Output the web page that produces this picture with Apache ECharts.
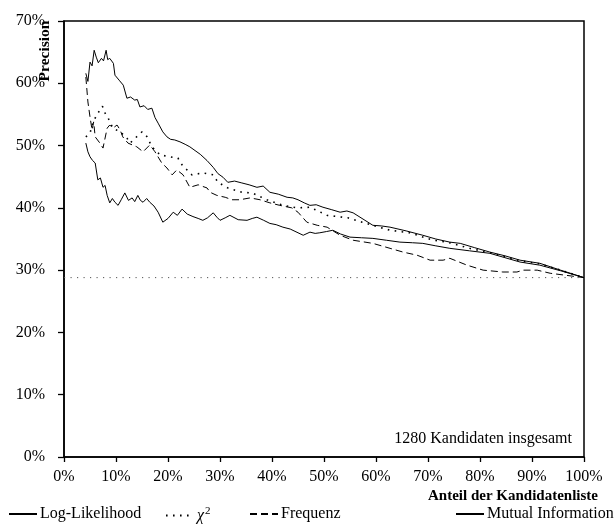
<!DOCTYPE html>
<html><head><meta charset="utf-8">
<script src="https://cdn.jsdelivr.net/npm/echarts@6/dist/echarts.min.js"></script>
<style>html,body{margin:0;padding:0;background:#fff}#c{width:615px;height:525px}</style>
</head><body><div id="c"></div>
<script>
const xTicks = [0,10,20,30,40,50,60,70,80,90,100];
const yTicks = [0,10,20,30,40,50,60,70];
const seriesNames = ['Log-Likelihood','χ²','Frequenz','Mutual Information'];
const baselineValue = 28.8;
const logLikelihood = [[4.2,61.6],[4.6,60.3],[5.0,63.4],[5.4,62.8],[5.8,65.3],[6.2,64.2],[6.6,63.3],[7.2,64.0],[7.6,63.6],[8.1,65.3],[8.4,63.8],[8.8,64.0],[9.5,63.2],[9.8,61.3],[10.6,60.5],[11.4,59.7],[12.1,57.6],[12.8,57.8],[13.6,57.3],[14.1,57.4],[14.6,56.2],[15.4,56.4],[16.1,55.8],[16.9,56.0],[17.5,54.5],[18.1,53.6],[19.0,52.2],[19.8,51.4],[20.5,51.0],[21.3,50.9],[22.3,50.6],[23.3,50.2],[24.2,49.8],[25.2,49.2],[26.2,48.6],[27.5,47.6],[28.7,46.5],[29.6,45.5],[30.6,44.9],[31.5,44.1],[32.8,44.3],[34.2,44.0],[35.6,43.7],[37.1,43.3],[38.3,43.5],[39.6,42.5],[41.2,42.2],[42.9,41.7],[44.0,41.6],[45.0,41.3],[46.2,40.8],[47.3,40.4],[48.5,40.5],[49.8,40.1],[51.5,39.7],[53.1,39.3],[54.4,39.5],[55.6,39.2],[57.5,38.2],[59.4,37.2],[61.0,37.1],[62.7,36.9],[65.8,36.3],[69.0,35.6],[71.5,35.0],[74.2,34.5],[76.2,34.3],[79.0,33.6],[81.9,32.9],[84.8,32.3],[87.7,31.6],[91.5,31.1],[95.5,30.0],[100,28.8]];
const chiSquare = [[4.2,51.4],[5.0,52.0],[5.6,53.8],[6.3,54.9],[6.9,55.7],[7.4,56.3],[7.9,55.2],[8.5,54.4],[9.4,52.8],[10.8,52.2],[12.1,51.2],[12.7,50.4],[13.7,51.2],[15.0,52.2],[16.0,51.4],[16.9,49.8],[18.5,48.5],[20.4,48.2],[21.9,48.0],[22.7,46.9],[24.6,45.3],[26.7,45.6],[28.7,45.3],[29.6,44.1],[31.5,43.2],[34.2,42.5],[36.2,42.4],[39.0,41.3],[42.1,40.4],[44.8,40.0],[47.3,40.1],[50.6,38.8],[54.6,38.4],[57.3,37.7],[62.7,36.4],[66.5,36.0],[71.0,34.8],[73.7,34.5],[78.0,33.5],[81.9,32.8],[87.7,31.5],[91.5,31.0],[95.5,30.0],[100,28.8]];
const frequenz = [[4.2,61.0],[4.6,57.0],[5.0,54.6],[5.4,52.5],[5.7,53.8],[6.0,51.4],[6.9,50.4],[7.5,49.6],[8.3,52.8],[8.8,53.3],[9.4,52.8],[10.2,53.3],[10.8,52.5],[11.3,51.4],[12.3,50.4],[14.0,49.8],[15.2,49.0],[16.5,50.1],[17.5,49.0],[18.8,47.2],[19.8,46.4],[20.8,45.3],[21.7,46.1],[22.9,45.3],[24.2,43.3],[25.8,43.7],[27.5,43.2],[28.1,42.5],[29.4,42.0],[31.0,41.7],[32.3,41.3],[33.8,41.3],[35.8,41.6],[37.7,41.3],[39.6,40.8],[41.5,40.4],[43.8,40.0],[45.0,39.3],[46.7,37.7],[48.7,37.2],[50.6,36.9],[53.1,35.6],[55.6,34.8],[59.4,34.3],[62.7,33.5],[65.2,32.9],[67.9,32.4],[70.4,31.6],[72.9,31.6],[74.2,31.9],[77.5,30.8],[80.6,30.0],[84.4,29.7],[87.1,29.7],[88.3,30.0],[91.0,30.0],[93.5,29.5],[100,28.8]];
const mutualInformation = [[4.2,50.4],[4.6,49.0],[5.0,48.2],[5.5,47.6],[6.0,47.2],[6.5,44.5],[7.0,44.8],[7.5,43.3],[7.9,43.6],[8.3,42.0],[8.8,40.8],[9.3,41.5],[9.8,40.9],[10.4,40.4],[11.0,41.3],[11.7,42.4],[12.4,41.2],[13.1,41.6],[13.6,41.0],[14.2,42.0],[14.7,41.2],[15.2,40.9],[15.9,41.5],[16.5,40.9],[17.3,40.3],[18.1,39.3],[19.0,37.7],[20.0,38.3],[21.0,39.3],[21.8,38.8],[22.7,39.8],[23.7,39.0],[24.8,38.6],[25.8,38.3],[26.7,38.0],[27.6,38.4],[28.7,39.2],[29.4,38.5],[30.0,38.0],[31.0,38.4],[31.9,38.8],[33.5,38.1],[35.2,38.0],[36.2,38.3],[37.1,38.5],[38.4,38.0],[39.6,37.5],[40.8,37.3],[42.1,36.9],[43.5,36.6],[45.0,36.0],[46.0,35.6],[47.3,36.1],[48.3,35.9],[49.2,36.0],[50.5,36.2],[51.7,36.4],[53.2,35.8],[55.0,35.3],[57.2,35.2],[59.4,35.1],[62.0,34.8],[64.6,34.5],[67.0,34.4],[69.0,34.3],[71.5,33.9],[74.2,33.5],[78.0,33.1],[81.9,32.7],[84.8,32.0],[87.7,31.3],[91.5,30.8],[95.5,29.9],[100,28.8]];

const FONT = '"Liberation Serif","Times New Roman",serif';
const chart = echarts.init(document.getElementById('c'), null, {renderer:'canvas'});
const mkLegend = (name, left) => ({
  data:[name], left:left, top:506, padding:0, itemWidth:28, itemHeight:14, itemGap:0,
  itemStyle:{opacity:0},
  textStyle:{fontFamily:FONT, fontSize:16, color:'#000', padding:[0,0,0,-2],
    rich:{i:{fontFamily:FONT,fontSize:16,fontStyle:'italic',color:'#000'},
          s:{fontFamily:FONT,fontSize:11,color:'#000',padding:[0,0,8,1]}}},
  formatter: n => n === 'χ²' ? '{i|χ}{s|2}' : n,
  selectedMode:false
});
const lineSeries = (name, data, type) => ({
  name, type:'line', data, symbol:'none', animation:false, silent:true,
  lineStyle:{color:'#000', width: type==='dotted' ? 1.6 : 1, type: type==='dotted' ? [1.6,5.4] : (type==='dashed' ? [7,4] : 'solid')},
  itemStyle:{color:'#000'}
});
chart.setOption({
  animation:false,
  backgroundColor:'#fff',
  grid:{left:64, top:21, right:31, bottom:68, show:true, borderColor:'#000', borderWidth:1.5, backgroundColor:'transparent'},
  xAxis:{type:'value', min:xTicks[0], max:xTicks[xTicks.length-1], interval:10,
    name:'Anteil der Kandidatenliste', nameLocation:'end', nameGap:14,
    nameTextStyle:{fontFamily:FONT, fontSize:15, fontWeight:'bold', color:'#000', align:'right', verticalAlign:'top', padding:[32,0,0,0]},
    axisLine:{lineStyle:{color:'#000', width:1.5}},
    axisTick:{show:true, inside:false, length:5, lineStyle:{color:'#000', width:1.3}},
    axisLabel:{formatter:'{value}%', fontFamily:FONT, fontSize:16, color:'#000', margin:12},
    splitLine:{show:false}},
  yAxis:{type:'value', min:yTicks[0], max:yTicks[yTicks.length-1], interval:10,
    axisLine:{show:true, lineStyle:{color:'#000', width:1.5}},
    axisTick:{show:true, inside:false, length:6, lineStyle:{color:'#000', width:1.3}},
    axisLabel:{formatter:'{value}%', fontFamily:FONT, fontSize:16, color:'#000', margin:19},
    splitLine:{show:false}},
  legend:[mkLegend(seriesNames[0],8), mkLegend(seriesNames[1],165), mkLegend(seriesNames[2],249), mkLegend(seriesNames[3],455)],
  graphic:[
    {type:'text', x:45, y:51, rotation:Math.PI/2, style:{text:'Precision', fontFamily:FONT, fontSize:15.5, fontWeight:'bold', fill:'#000', align:'center', verticalAlign:'middle'}},
    {type:'text', x:572, y:439, style:{text:'1280 Kandidaten insgesamt', fontFamily:FONT, fontSize:16, fill:'#000', align:'right', verticalAlign:'middle'}}
  ],
  series:[
    lineSeries(seriesNames[0], logLikelihood, 'solid'),
    lineSeries(seriesNames[1], chiSquare, 'dotted'),
    lineSeries(seriesNames[2], frequenz, 'dashed'),
    lineSeries(seriesNames[3], mutualInformation, 'solid'),
    {name:'Zufall', type:'line', symbol:'none', silent:true, animation:false,
     data:[[xTicks[0], baselineValue],[xTicks[xTicks.length-1], baselineValue]],
     lineStyle:{color:'#555', width:1, type:[1.2,5.3]}}
  ]
});
</script></body></html>
